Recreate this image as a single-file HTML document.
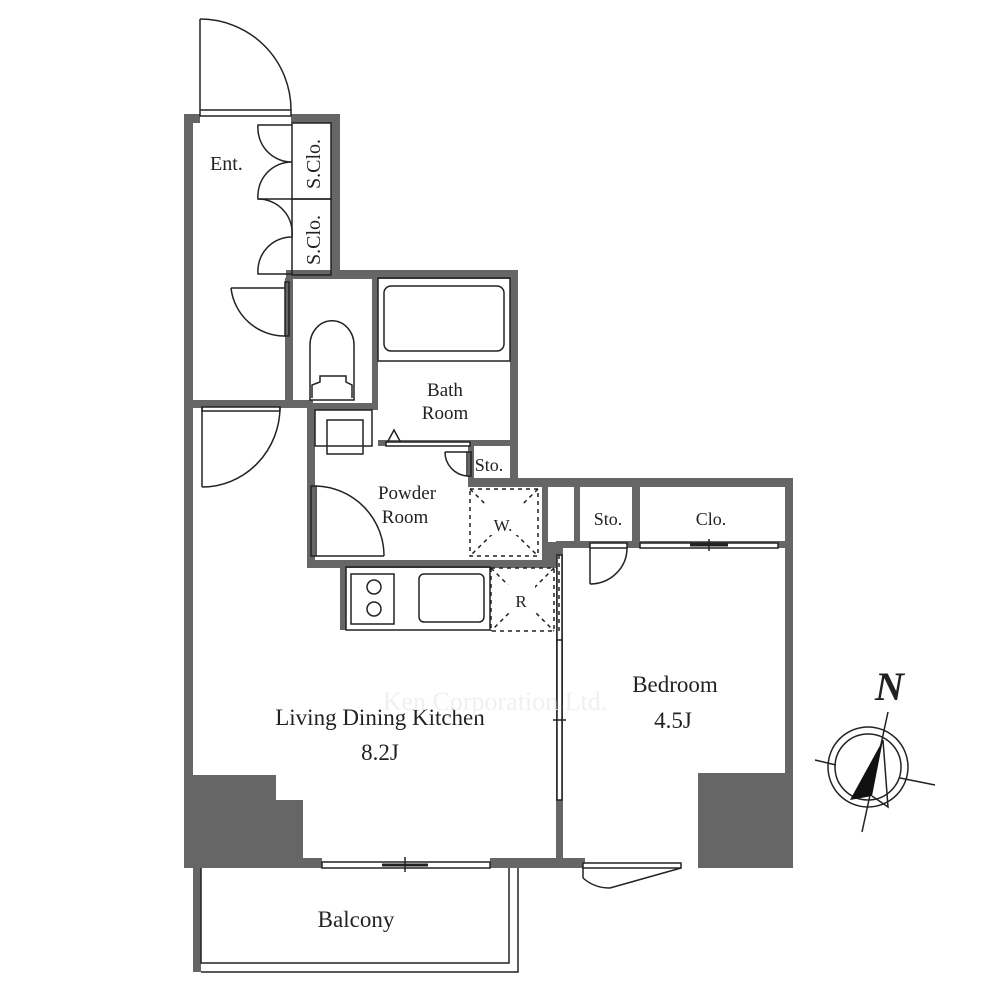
<!DOCTYPE html>
<html><head><meta charset="utf-8"><style>
html,body{margin:0;padding:0;background:#fff;}
svg{display:block}
text{font-family:"Liberation Serif",serif;fill:#222;}
</style></head><body>
<svg width="1000" height="1000" viewBox="0 0 1000 1000" xmlns="http://www.w3.org/2000/svg">
<g fill="#666">
<rect x="184" y="114" width="9" height="754"/>
<rect x="184" y="114" width="16" height="9"/>
<rect x="291" y="114" width="49" height="9"/>
<rect x="331" y="114" width="9" height="164"/>
<rect x="286" y="270" width="232" height="9"/>
<rect x="510" y="270" width="8" height="217"/>
<rect x="510" y="478" width="283" height="9"/>
<rect x="785" y="478" width="8" height="390"/>
<rect x="184" y="858" width="138" height="10"/>
<rect x="490" y="858" width="95" height="10"/>
<rect x="698" y="858" width="95" height="10"/>
<path d="M184 775 H276 V800 H303 V868 H184 Z"/>
<rect x="698" y="773" width="95" height="95"/>
<rect x="193" y="868" width="8" height="104"/>
<rect x="285" y="278" width="8" height="128"/>
<rect x="193" y="400" width="120" height="8"/>
<rect x="372" y="278" width="6" height="130"/>
<rect x="378" y="440" width="132" height="6"/>
<rect x="307" y="403" width="71" height="7"/>
<rect x="307" y="403" width="8" height="165"/>
<rect x="307" y="560" width="255" height="8"/>
<rect x="468" y="446" width="6" height="39"/>
<rect x="468" y="478" width="80" height="9"/>
<rect x="542" y="478" width="6" height="90"/>
<rect x="574" y="478" width="6" height="70"/>
<rect x="632" y="478" width="8" height="70"/>
<rect x="542" y="542" width="21" height="26"/>
<rect x="556" y="542" width="7" height="318"/>
<rect x="556" y="541" width="229" height="7"/>
<rect x="340" y="560" width="6" height="70"/>
</g>
<g fill="none" stroke="#222" stroke-width="1.5">
<rect x="200" y="110" width="91" height="6" fill="#fff"/>
<line x1="200" y1="110" x2="200" y2="19"/>
<path d="M200 19 A91 91 0 0 1 291 110"/>
<rect x="292" y="123" width="39" height="76"/>
<rect x="292" y="199" width="39" height="76"/>
<path d="M292 125 L258 125 A34 34 0 0 0 292 162 A34 34 0 0 0 258 199 L292 199"/>
<path d="M258 199 A34 34 0 0 1 292 237 A34 34 0 0 0 258 274 L292 274"/>
<rect x="285" y="282" width="4" height="54"/>
<path d="M231 288 A54 54 0 0 0 285 336"/>
<line x1="231" y1="288" x2="285" y2="288"/>
<path d="M310 400 L310 345 A20 22 0 0 1 354 345 L354 400 Z"/>
<path d="M312 398 L312 385 L320 382 L320 376 L346 376 L346 382 L352 385 L352 398"/>
<rect x="378" y="278" width="132" height="83"/>
<rect x="384" y="286" width="120" height="65" rx="7"/>
<rect x="202" y="407" width="78" height="4" fill="#fff"/>
<line x1="202" y1="407" x2="202" y2="487"/>
<path d="M280 407 A78 80 0 0 1 202 487"/>
<rect x="315" y="410" width="57" height="36"/>
<rect x="327" y="420" width="36" height="34"/>
<path d="M387 443 L394 430 L401 443"/>
<rect x="386" y="442" width="84" height="4" fill="#fff"/>
<rect x="467" y="452" width="4" height="24"/>
<path d="M445 452 A24 24 0 0 0 467 476"/>
<line x1="445" y1="452" x2="467" y2="452"/>
<rect x="311" y="486" width="5" height="70"/>
<path d="M316 486 A70 70 0 0 1 384 556"/>
<line x1="316" y1="556" x2="384" y2="556"/>
<rect x="346" y="567" width="144" height="63"/>
<rect x="351" y="574" width="43" height="50"/>
<circle cx="374" cy="587" r="7"/><circle cx="374" cy="609" r="7"/>
<rect x="419" y="574" width="65" height="48" rx="5"/>
<rect x="557" y="555" width="5" height="150" fill="#fff"/>
<rect x="557" y="640" width="5" height="160" fill="#fff"/>
<line x1="553" y1="720" x2="566" y2="720"/>
<rect x="590" y="543" width="37" height="5" fill="#fff"/>
<line x1="590" y1="548" x2="590" y2="584"/>
<path d="M627 548 A37 36 0 0 1 590 584"/>
<rect x="640" y="543" width="138" height="5" fill="#fff"/>
<line x1="690" y1="545" x2="728" y2="545" stroke-width="3"/>
<line x1="709" y1="539" x2="709" y2="551"/>
<rect x="322" y="862" width="168" height="6" fill="#fff"/>
<line x1="382" y1="865" x2="428" y2="865" stroke-width="3"/>
<line x1="405" y1="857" x2="405" y2="872"/>
<path d="M201 868 V963 H509 V868"/>
<path d="M201 972 H518 V868"/>
<rect x="583" y="863" width="98" height="5" fill="#fff"/>
<line x1="583" y1="868" x2="583" y2="878"/>
<path d="M583 878 A40 40 0 0 0 610 888 L681 868"/>
</g>
<g fill="none" stroke="#222" stroke-width="1.5" stroke-dasharray="4 4">
<rect x="470" y="489" width="68" height="67"/>
<line x1="470" y1="489" x2="538" y2="556"/><line x1="538" y1="489" x2="470" y2="556"/>
<rect x="491" y="568" width="63" height="63"/>
<line x1="491" y1="568" x2="554" y2="631"/><line x1="554" y1="568" x2="491" y2="631"/>
<line x1="559" y1="555" x2="559" y2="635"/>
</g>
<rect x="480" y="505" width="45" height="30" fill="#fff"/>
<rect x="505" y="585" width="30" height="28" fill="#fff"/>
<g fill="none" stroke="#222" stroke-width="1.5">
<circle cx="868" cy="767" r="40"/><circle cx="868" cy="767" r="33"/>
<line x1="888" y1="712" x2="862" y2="832"/>
<line x1="815" y1="760" x2="836" y2="765"/>
<line x1="900" y1="778" x2="935" y2="785"/>
<path d="M883 740 L888 807 L872 796"/>
</g>
<path d="M883 740 L850 800 L872 796 Z" fill="#111"/>
<text x="875" y="700" font-size="40" font-style="italic" font-weight="bold">N</text>
<g font-size="20">
<text x="210" y="170">Ent.</text>
<text transform="translate(320 189) rotate(-90)">S.Clo.</text>
<text transform="translate(320 265) rotate(-90)">S.Clo.</text>
<text x="445" y="396" text-anchor="middle" font-size="19">Bath</text>
<text x="445" y="419" text-anchor="middle" font-size="19">Room</text>
<text x="489" y="471" text-anchor="middle" font-size="18">Sto.</text>
<text x="407" y="499" text-anchor="middle" font-size="19">Powder</text>
<text x="405" y="523" text-anchor="middle" font-size="19">Room</text>
<text x="503" y="531" text-anchor="middle" font-size="17">W.</text>
<text x="521" y="607" text-anchor="middle" font-size="17">R</text>
<text x="608" y="525" text-anchor="middle" font-size="18">Sto.</text>
<text x="711" y="525" text-anchor="middle" font-size="18">Clo.</text>
<text x="675" y="692" text-anchor="middle" font-size="23">Bedroom</text>
<text x="673" y="728" text-anchor="middle" font-size="23">4.5J</text>
<text x="380" y="725" text-anchor="middle" font-size="23">Living Dining Kitchen</text>
<text x="380" y="760" text-anchor="middle" font-size="23">8.2J</text>
<text x="356" y="927" text-anchor="middle" font-size="23">Balcony</text>
</g>
<text x="495" y="710" text-anchor="middle" font-size="26" font-family="Liberation Sans,sans-serif" style="fill:#f0f0f0">Ken Corporation Ltd.</text>
</svg>
</body></html>
